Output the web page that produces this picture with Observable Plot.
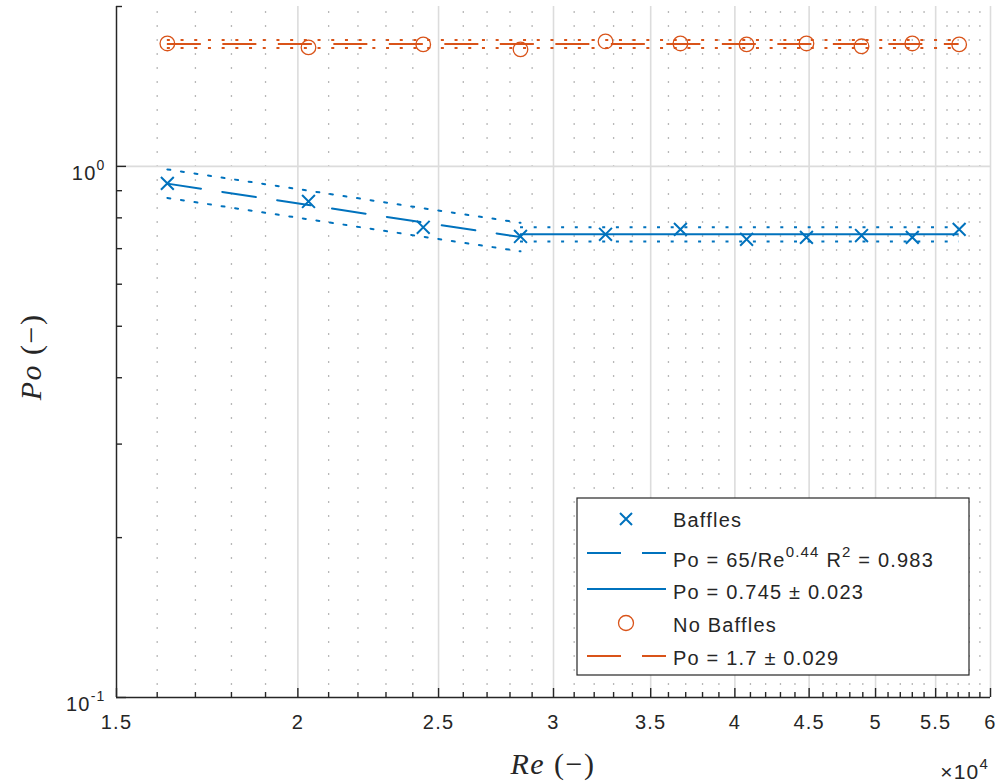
<!DOCTYPE html>
<html><head><meta charset="utf-8">
<script src="https://cdn.jsdelivr.net/npm/d3@7"></script>
<script src="https://cdn.jsdelivr.net/npm/@observablehq/plot@0.6"></script>
<style>
body{margin:0;background:#fff;}
#chart{position:relative;width:999px;height:784px;}
</style>
</head><body><div id="chart"></div>
<script>
// ---- data ----
const re = [16260, 20340, 24400, 28470, 32580, 36690, 40750, 44810, 48900, 53000, 57090];
const poBaffles = [0.929, 0.859, 0.768, 0.738, 0.745, 0.761, 0.729, 0.735, 0.741, 0.735, 0.761];
const poNoBaffles = [1.704, 1.675, 1.697, 1.661, 1.719, 1.704, 1.697, 1.704, 1.683, 1.704, 1.697];
// power-law fit (dashed) and its bounds (dotted)
const fitRe = [16260, 20340, 24400, 28470];
const fitPo = [0.928, 0.846, 0.784, 0.736];
const fitUpper = [0.987, 0.900, 0.834, 0.783];
const fitLower = [0.872, 0.795, 0.737, 0.692];
// plateau (baffles)
const plateauRe = [28470, 57090];
const plateauMean = 0.745, plateauErr = 0.023;
// no baffles
const nbRe = [16260, 57090];
const nbMean = 1.7, nbErr = 0.029;
// axis ticks
const xMajor = [15000, 20000, 25000, 30000, 35000, 40000, 45000, 50000, 55000, 60000];
const xMinor = [16000,17000,18000,19000,21000,22000,23000,24000,26000,27000,28000,29000,31000,32000,33000,34000,36000,37000,38000,39000,41000,42000,43000,44000,46000,47000,48000,49000,51000,52000,53000,54000,56000,57000,58000,59000];
const yMajor = [0.1, 1];
const yMinor = [0.2, 0.3, 0.4, 0.5, 0.6, 0.7, 0.8, 0.9, 2];
const legendLabels = ["Baffles", "Po = 65/Re", "Po = 0.745 \u00b1 0.023", "No Baffles", "Po = 1.7 \u00b1 0.029"];

// ---- tables ----
const baffles = re.map((r, i) => ({re: r, po: poBaffles[i]}));
const noBaffles = re.map((r, i) => ({re: r, po: poNoBaffles[i]}));
const fit = fitRe.map((r, i) => ({re: r, po: fitPo[i], up: fitUpper[i], lo: fitLower[i]}));

const blue = "#0072BD", orange = "#D95319", ink = "#262626";
const dashed = "34,21.5", dotted = "3,10.7";

const plot = Plot.plot({
  width: 999, height: 784,
  marginLeft: 116, marginRight: 9, marginTop: 6, marginBottom: 87,
  style: {fontFamily: "'Liberation Sans', Arial, Helvetica, sans-serif", fontSize: "20px", letterSpacing: "1.2px", color: ink, background: "#fff"},
  x: {type: "log", domain: [15000, 60000]},
  y: {type: "log", domain: [0.1, 2]},
  marks: [
    // grid
    Plot.ruleX(xMinor, {stroke: "#b8b8b8", strokeWidth: 1.3, strokeDasharray: "2,12", strokeDashoffset: -5}),
    Plot.ruleX(xMajor, {stroke: "#dcdcdc", strokeWidth: 1.6}),
    Plot.ruleY([1], {stroke: "#dcdcdc", strokeWidth: 1.6}),
    // blue fit
    Plot.line(fit, {x: "re", y: "up", stroke: blue, strokeWidth: 2, strokeDasharray: dotted}),
    Plot.line(fit, {x: "re", y: "lo", stroke: blue, strokeWidth: 2, strokeDasharray: dotted}),
    Plot.line(fit, {x: "re", y: "po", stroke: blue, strokeWidth: 2, strokeDasharray: dashed}),
    // blue plateau
    Plot.ruleY([plateauMean + plateauErr, plateauMean - plateauErr], {x1: plateauRe[0], x2: plateauRe[1], stroke: blue, strokeWidth: 2, strokeDasharray: dotted}),
    Plot.ruleY([plateauMean], {x1: plateauRe[0], x2: plateauRe[1], stroke: blue, strokeWidth: 2}),
    // orange
    Plot.ruleY([nbMean + nbErr, nbMean - nbErr], {x1: nbRe[0], x2: nbRe[1], stroke: orange, strokeWidth: 2, strokeDasharray: dotted}),
    Plot.ruleY([nbMean], {x1: nbRe[0], x2: nbRe[1], stroke: orange, strokeWidth: 2, strokeDasharray: dashed}),
    // markers
    Plot.dot(baffles, {x: "re", y: "po", symbol: "times", r: 5.9, stroke: blue, strokeWidth: 2}),
    Plot.dot(noBaffles, {x: "re", y: "po", symbol: "circle", r: 7.3, stroke: orange, strokeWidth: 1.3, fill: "none"}),
    // axis lines
    Plot.ruleX([15000], {stroke: ink, strokeWidth: 1.4}),
    Plot.ruleY([0.1], {stroke: ink, strokeWidth: 1.4}),
    // ticks (inward)
    Plot.axisX(xMajor, {tickSize: -9, tickFormat: () => "", stroke: ink, strokeWidth: 1.4, label: null}),
    Plot.axisX(xMinor, {tickSize: -5, tickFormat: () => "", stroke: ink, strokeWidth: 1.4, label: null}),
    Plot.axisY(yMajor, {tickSize: -10, tickFormat: () => "", stroke: ink, strokeWidth: 1.4, label: null}),
    Plot.axisY(yMinor, {tickSize: -6, tickFormat: () => "", stroke: ink, strokeWidth: 1.4, label: null}),
    // tick labels
    Plot.axisX(xMajor, {tickSize: 0, tickPadding: 17, tickFormat: d => d3.format(".1~f")(d / 1e4), fill: ink, label: null}),
    Plot.axisY(yMajor, {tickSize: 0, tickPadding: 11, tickFormat: d => d === 1 ? "0" : "-1", fill: ink, label: null, dy: 7})
  ]
});
document.getElementById("chart").appendChild(plot);

// ---- post-processing: superscripts, axis titles, legend ----
const svg = d3.select(plot);
// drop the empty label texts of the tick-only axes
svg.selectAll("text").filter(function() { return this.textContent === ""; }).remove();
svg.selectAll('g[aria-label="y-axis tick label"] text').each(function() {
  const t = d3.select(this);
  const e = t.text();
  t.text("10");
  t.append("tspan").attr("dy", -10).attr("font-size", 14).text(e);
});

// ×10^4
const mult = svg.append("text").attr("x", 989).attr("y", 779).attr("text-anchor", "end")
  .attr("fill", ink).attr("font-size", 21).text("\u00d710");
mult.append("tspan").attr("dy", -10).attr("font-size", 15).text("4");

// axis titles (LaTeX-like)
const serif = "'Liberation Serif', 'DejaVu Serif', serif";
const xl = svg.append("text").attr("x", 553).attr("y", 774).attr("text-anchor", "middle")
  .attr("font-family", serif).attr("font-size", 30).attr("letter-spacing", 1.5).attr("fill", ink);
xl.append("tspan").attr("font-style", "italic").text("Re");
xl.append("tspan").text(" (\u2212)");
const yl = svg.append("text").attr("transform", "translate(41,357) rotate(-90)").attr("text-anchor", "middle")
  .attr("font-family", serif).attr("font-size", 30).attr("letter-spacing", 1.5).attr("fill", ink);
yl.append("tspan").attr("font-style", "italic").text("Po");
yl.append("tspan").text(" (\u2212)");

// legend
const lg = svg.append("g").attr("text-anchor", "start");
lg.append("rect").attr("x", 577).attr("y", 498).attr("width", 392).attr("height", 177)
  .attr("fill", "#fff").attr("stroke", ink).attr("stroke-width", 1.2);
const lx1 = 587, lx2 = 666, mx = 626, tx = 673;
// row 1: x marker
lg.append("path").attr("d", `M${mx-6},513L${mx+6},525M${mx-6},525L${mx+6},513`).attr("stroke", blue).attr("stroke-width", 2).attr("fill", "none");
lg.append("text").attr("x", tx).attr("y", 527).attr("fill", ink).text(legendLabels[0]);
// row 2: dashed blue
lg.append("line").attr("x1", lx1).attr("x2", lx2).attr("y1", 553).attr("y2", 553).attr("stroke", blue).attr("stroke-width", 2).attr("stroke-dasharray", "34,21");
const r2 = lg.append("text").attr("x", tx).attr("y", 567).attr("fill", ink).text(legendLabels[1]);
r2.append("tspan").attr("dy", -10).attr("font-size", 15).text("0.44");
r2.append("tspan").attr("dy", 10).text(" R");
r2.append("tspan").attr("dy", -10).attr("font-size", 15).text("2");
r2.append("tspan").attr("dy", 10).text(" = 0.983");
// row 3: solid blue
lg.append("line").attr("x1", lx1).attr("x2", lx2).attr("y1", 589).attr("y2", 589).attr("stroke", blue).attr("stroke-width", 2);
lg.append("text").attr("x", tx).attr("y", 599).attr("fill", ink).text(legendLabels[2]);
// row 4: circle
lg.append("circle").attr("cx", mx).attr("cy", 623).attr("r", 7.5).attr("fill", "none").attr("stroke", orange).attr("stroke-width", 1.3);
lg.append("text").attr("x", tx).attr("y", 632).attr("fill", ink).text(legendLabels[3]);
// row 5: dashed orange
lg.append("line").attr("x1", lx1).attr("x2", lx2).attr("y1", 656).attr("y2", 656).attr("stroke", orange).attr("stroke-width", 2).attr("stroke-dasharray", "34,21");
lg.append("text").attr("x", tx).attr("y", 665).attr("fill", ink).text(legendLabels[4]);
</script>
</body></html>
